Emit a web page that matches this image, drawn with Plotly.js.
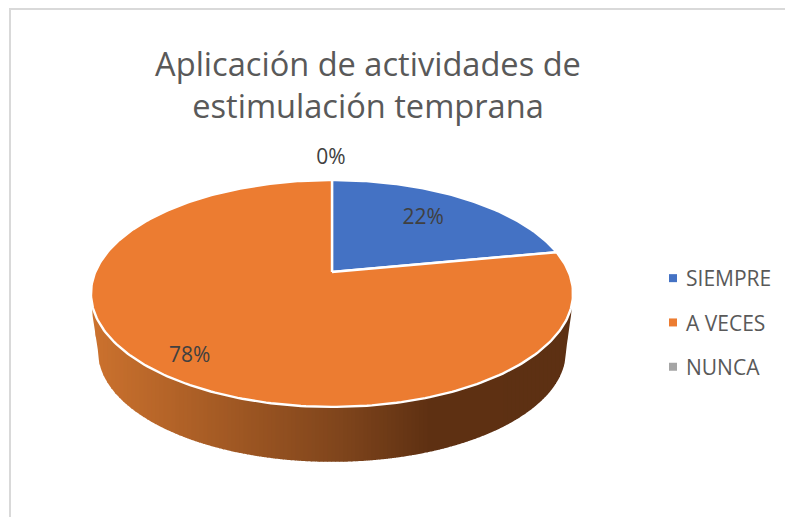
<!DOCTYPE html>
<html>
<head>
<meta charset="utf-8">
<script src="https://cdn.plot.ly/plotly-3.0.1.min.js"></script>
<style>html,body{margin:0;padding:0;background:#fff}#chart{width:785px;height:517px}</style>
</head>
<body>
<div id="chart"></div>
<script>
const titleText = 'Aplicación de actividades de<br>estimulación temprana';
const categories = ['SIEMPRE', 'A VECES', 'NUNCA'];
const values = [22, 78, 0];
const colors = ['#4472C4', '#EC7C31', '#A5A5A5'];

const FONT = '"Open Sans", sans-serif';
// Perspective view of the pie disc
const apex = {x: 332, y: 272}, A = 236.7, B = 109.4, K = 0.189;
const base = {x: 332, y: 331, s: 0.97};
function proj(frac, r) {
  const t = frac * 2 * Math.PI, u = r * Math.sin(t), v = r * Math.cos(t), d = 1 + K * v;
  return [A * u / d, -B * v / d];
}
const total = values.reduce((a, b) => a + b, 0);
const traces = [];

// Side wall: lower outline, then gradient strips
const lower = [];
for (let i = 0; i <= 720; i++) {
  const p = proj(i / 720, 1);
  if (p[1] >= 21) lower.push([base.x + base.s * p[0], base.y + base.s * p[1]]);
}
lower.sort((a, b) => a[0] - b[0]);
const outline = [[91.5, 300], [92, 312]].concat(lower, [[571.5, 312], [572.5, 300]]);
function bottomAt(x) {
  for (let i = 1; i < outline.length; i++) {
    if (x <= outline[i][0]) {
      const a = outline[i - 1], b = outline[i];
      return a[1] + (b[1] - a[1]) * (x - a[0]) / Math.max(b[0] - a[0], 1e-6);
    }
  }
  return outline[outline.length - 1][1];
}
const wallStops = [[91, [204, 114, 46]], [250, [155, 85, 34]], [350, [124, 67, 27]], [430, [94, 48, 18]], [573, [93, 48, 19]]];
function wallColor(x) {
  for (let i = 1; i < wallStops.length; i++) {
    if (x <= wallStops[i][0]) {
      const a = wallStops[i - 1], b = wallStops[i], f = (x - a[0]) / (b[0] - a[0]);
      return 'rgb(' + a[1].map((c, j) => Math.round(c + (b[1][j] - c) * f)).join(',') + ')';
    }
  }
}
for (let x = 91.5; x < 572.5; x += 4) {
  const x1 = Math.min(x + 4.5, 572.5), top = 295, n = 4, xs = [x, x1], ys = [top, top];
  for (let j = 0; j <= n; j++) { const q = x1 + (x - x1) * j / n; xs.push(q); ys.push(bottomAt(q)); }
  traces.push({type: 'scatter', mode: 'none', x: xs, y: ys, fill: 'toself', fillcolor: wallColor(x + 2), showlegend: false, hoverinfo: 'skip'});
}

// Top face slices
let cum = 0;
const labelX = [], labelY = [], labelT = [];
const labelR = [0.67, 0.84, 1.3];
const labelNudge = [[-1, -2], [2, 4], [-1, 1]];
values.forEach((v, i) => {
  const start = cum / total, end = (cum + v) / total, xs = [apex.x], ys = [apex.y];
  const n = Math.max(1, Math.ceil((end - start) * 360));
  for (let j = 0; j <= n; j++) {
    const p = proj(start + (end - start) * j / n, 1);
    xs.push(apex.x + p[0]); ys.push(apex.y + p[1]);
  }
  xs.push(apex.x); ys.push(apex.y);
  traces.push({type: 'scatter', mode: v > 0 ? 'lines' : 'none', x: v > 0 ? xs : [null], y: v > 0 ? ys : [null],
    fill: 'toself', fillcolor: colors[i], line: {color: '#FFFFFF', width: 2.4}, showlegend: false, hoverinfo: 'skip'});
  const c = proj((start + end) / 2 % 1, labelR[i]);
  labelX.push(apex.x + c[0] + labelNudge[i][0]); labelY.push(apex.y + c[1] + labelNudge[i][1]);
  labelT.push(Math.round(v / total * 100) + '%');
  cum += v;
});
// data labels
traces.push({type: 'scatter', mode: 'text', x: labelX, y: labelY, text: labelT, textposition: 'middle center',
  textfont: {family: FONT, size: 21, color: '#404040'}, showlegend: false, hoverinfo: 'skip', cliponaxis: false});
// legend entries
categories.forEach((c, i) => {
  traces.push({type: 'scatter', mode: 'markers', x: [null], y: [null], name: c, legendgroup: c,
    marker: {symbol: 'square', size: 8, color: colors[i]}});
});

const layout = {
  width: 785, height: 517,
  margin: {l: 0, r: 0, t: 0, b: 0},
  paper_bgcolor: '#FFFFFF', plot_bgcolor: '#FFFFFF',
  xaxis: {range: [0, 785], visible: false, fixedrange: true},
  yaxis: {range: [517, 0], visible: false, fixedrange: true},
  title: {text: titleText, x: 368 / 785, xanchor: 'center', xref: 'paper', y: 1 - 76 / 517, yanchor: 'top', yref: 'paper',
    font: {family: FONT, size: 32.6, color: '#595959'}},
  legend: {x: 646 / 785, y: 1 - 258 / 517, xanchor: 'left', yanchor: 'top', bgcolor: 'rgba(0,0,0,0)',
    font: {family: FONT, size: 21, color: '#595959'}, tracegroupgap: 14, traceorder: 'grouped', borderwidth: 0},
  shapes: [{type: 'rect', xref: 'x', yref: 'y', x0: 10, x1: 800, y0: 9, y1: 530, line: {color: '#D9D9D9', width: 2}, fillcolor: 'rgba(0,0,0,0)', layer: 'below'}],
  showlegend: true
};
Plotly.newPlot('chart', traces, layout, {displayModeBar: false, staticPlot: true}).then(() => {
  document.querySelectorAll('#chart .legend .legendsymbols').forEach(g => g.setAttribute('transform', 'translate(7,0)'));
});
</script>
</body>
</html>
